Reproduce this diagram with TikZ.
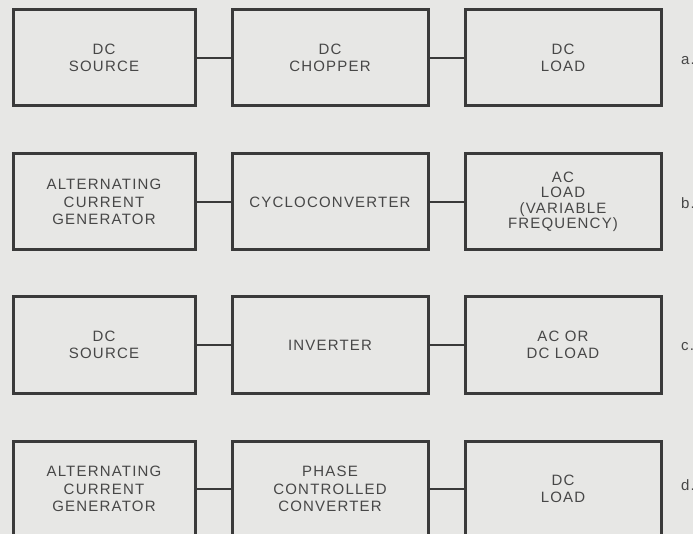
\documentclass[tikz,border=0pt]{standalone}
\usepackage{fontspec}
\setmainfont[LetterSpace=8]{Liberation Sans}
\definecolor{bg}{HTML}{E7E7E5}
\definecolor{ink}{HTML}{3A3A3A}
\definecolor{txt}{HTML}{474747}
\begin{document}
\begin{tikzpicture}[x=1pt,y=-1pt,
  blk/.style={draw=ink,line width=3pt,rectangle,minimum height=96pt,align=center,
    text=txt,font=\fontsize{15}{17.5}\selectfont,inner sep=0pt},
  leftblk/.style={blk,minimum width=182pt},
  wideblk/.style={blk,minimum width=196pt},
  tight/.style={font=\fontsize{15}{15.5}\selectfont},
  link/.style={draw=ink,line width=2.2pt},
  tag/.style={text=txt,font=\fontsize{15}{16}\selectfont,anchor=west,inner sep=0pt}]
\useasboundingbox (0,0) rectangle (693,534);
\fill[bg] (0,0) rectangle (693,534);
\clip (0,0) rectangle (693,534);
% row a
\node[leftblk] (a1) at (104,58) {DC\\SOURCE};
\node[wideblk] (a2) at (330,58) {DC\\CHOPPER};
\node[wideblk] (a3) at (563,58) {DC\\LOAD};
\node[tag] (la) at (681,61) {a.};
\draw[link] (a1) -- (a2);
\draw[link] (a2) -- (a3);
% row b
\node[leftblk] (b1) at (104,202) {ALTERNATING\\CURRENT\\GENERATOR};
\node[wideblk] (b2) at (330,202) {CYCLOCONVERTER};
\node[wideblk,tight] (b3) at (563,202) {AC\\LOAD\\(VARIABLE\\FREQUENCY)};
\node[tag] (lb) at (681,203) {b.};
\draw[link] (b1) -- (b2);
\draw[link] (b2) -- (b3);
% row c
\node[leftblk] (c1) at (104,345) {DC\\SOURCE};
\node[wideblk] (c2) at (330,345) {INVERTER};
\node[wideblk] (c3) at (563,345) {AC OR\\DC LOAD};
\node[tag] (lc) at (681,347) {c.};
\draw[link] (c1) -- (c2);
\draw[link] (c2) -- (c3);
% row d
\node[leftblk] (d1) at (104,489) {ALTERNATING\\CURRENT\\GENERATOR};
\node[wideblk] (d2) at (330,489) {PHASE\\CONTROLLED\\CONVERTER};
\node[wideblk] (d3) at (563,489) {DC\\LOAD};
\node[tag] (ld) at (681,485) {d.};
\draw[link] (d1) -- (d2);
\draw[link] (d2) -- (d3);
\end{tikzpicture}
\end{document}
